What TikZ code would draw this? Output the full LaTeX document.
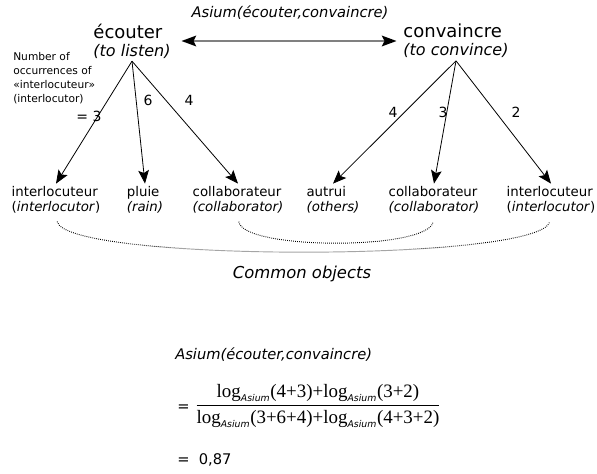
\documentclass[tikz,border=0pt]{standalone}
\usepackage{amsmath, fontspec}
\setmainfont{DejaVu Sans}
\newfontfamily\lserif{Liberation Serif}
\usetikzlibrary{arrows.meta, positioning}

\newcommand{\alog}[1]{\text{\lserif log}_{\text{\fontsize{7}{8}\selectfont\itshape Asium}}\text{\lserif(#1)}}
\newcommand{\aplus}{\text{\lserif +}}
\newcommand{\gloss}[1]{{\fontsize{12}{12}\selectfont\itshape #1}}

\begin{document}
\begin{tikzpicture}[x=0.75pt, y=-0.75pt]
		\tikzstyle{verb} = [align=left, inner sep=2pt, font=\fontsize{13.5}{13.5}\selectfont]
		\tikzstyle{obj} = [align=left, inner sep=2pt, font=\fontsize{10}{11.25}\selectfont]
		\tikzstyle{num} = [inner sep=1pt, font=\fontsize{10.5}{12}\selectfont]
		\tikzstyle{arrow} = [line width=0.6pt, -{Stealth[length=10pt, width=8pt, inset=2pt]}]
		\tikzstyle{link} = [line width=1.5pt, gray, {Stealth[length=11pt, width=8pt, inset=2pt, color=black]}-{Stealth[length=11pt, width=8pt, inset=2pt, color=black]}]
		\tikzstyle{common} = [line width=0.7pt, dash pattern=on 0.6pt off 0.9pt, shorten <=4pt, shorten >=4pt]
		
		\useasboundingbox (0,0) rectangle (597,474);
		
		% the two verbs
		\node (title) [font=\fontsize{11}{13}\selectfont\itshape] at (290,13) {Asium(écouter,convaincre)};
		\node (ecouter) [verb] at (132,41) {écouter\\\gloss{(to listen)}};
		\node (convaincre) [verb] at (456,41) {convaincre\\\gloss{(to convince)}};
		\draw [link, shorten <=6pt, shorten >=3pt] (ecouter) -- (convaincre);
		
		\node (note) [anchor=north west, align=left, inner sep=0pt, font=\fontsize{8}{10.5}\selectfont] at (13,52) {Number of\\occurrences of\\«interlocuteur»\\(interlocutor)};
		
		% objects
		\node (inter1) [obj] at (56,200) {interlocuteur\\(\textit{interlocutor})};
		\node (pluie) [obj] at (145,200) {pluie\\\textit{(rain)}};
		\node (collab1) [obj] at (238,200) {collaborateur\\\textit{(collaborator)}};
		\node (autrui) [obj] at (333,200) {autrui\\\textit{(others)}};
		\node (collab2) [obj] at (434,200) {collaborateur\\\textit{(collaborator)}};
		\node (inter2) [obj] at (551,200) {interlocuteur\\(\textit{interlocutor})};
		
		\draw [arrow] (ecouter.south) -- (inter1.north);
		\draw [arrow] (ecouter.south) -- (pluie.north);
		\draw [arrow] (ecouter.south) -- (collab1.north);
		\draw [arrow] (convaincre.south) -- (autrui.north);
		\draw [arrow] (convaincre.south) -- (collab2.north);
		\draw [arrow] (convaincre.south) -- (inter2.north);
		
		\node (n3) [num] at (89,116) {= 3};
		\node (n6) [num] at (148,100) {6};
		\node (n4) [num] at (189,100) {4};
		\node (m4) [num] at (393,112) {4};
		\node (m3) [num] at (443,112) {3};
		\node (m2) [num] at (516,112) {2};
		
		\draw [common] (inter1.south) .. controls +(10,46) and +(-10,46) .. (inter2.south);
		\draw [common] (collab1.south) .. controls +(5,34) and +(-5,34) .. (collab2.south);
		\node (commonobj) [font=\fontsize{12.3}{14}\selectfont\itshape] at (302,274) {Common objects};
		
		% the measure
		\node (asium) [anchor=west, inner sep=0pt, font=\fontsize{11}{13}\selectfont\itshape] at (175,355) {Asium(écouter,convaincre)};
		\node (eq1) [anchor=west, inner sep=0pt, font=\fontsize{11}{13}\selectfont] at (177,408) {=};
		\node (ratio) [inner sep=0pt, font=\fontsize{14.2}{16}\selectfont] at (318,406) {$\dfrac{\alog{4\aplus3}\aplus\alog{3\aplus2}}{\alog{3\aplus6\aplus4}\aplus\alog{4\aplus3\aplus2}}$};
		\node (eq2) [anchor=west, inner sep=0pt, font=\fontsize{11}{13}\selectfont] at (177,460) {=\ \ 0,87};
\end{tikzpicture}
\end{document}
